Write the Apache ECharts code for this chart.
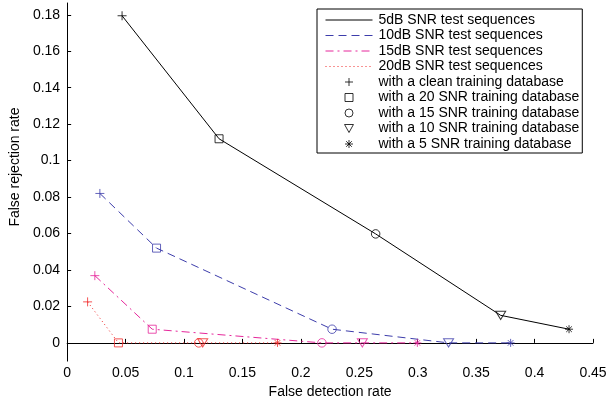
<!DOCTYPE html>
<html>
<head>
<meta charset="utf-8">
<script src="https://cdn.jsdelivr.net/npm/echarts@6/dist/echarts.min.js"></script>
<style>
html,body{margin:0;padding:0;background:#fff;}
#chart{width:613px;height:404px;}
</style>
</head>
<body>
<div id="chart"></div>
<script>
// ---- data ----
const sequenceNames = ['5dB SNR test sequences', '10dB SNR test sequences', '15dB SNR test sequences', '20dB SNR test sequences'];
const trainingNames = ['with a clean training database', 'with a 20 SNR training database', 'with a 15 SNR training database', 'with a 10 SNR training database', 'with a 5 SNR training database'];
// points ordered by training: clean, 20, 15, 10, 5
const fdr5  = [0.047, 0.130, 0.264, 0.371, 0.4295];
const frr5  = [0.1795, 0.112, 0.0598, 0.0151, 0.0075];
const fdr10 = [0.028, 0.0765, 0.2267, 0.3264, 0.3795];
const frr10 = [0.082, 0.052, 0.0075, 0, 0];
const fdr15 = [0.0237, 0.0728, 0.218, 0.2526, 0.2997];
const frr15 = [0.0369, 0.0075, 0, 0, 0];
const fdr20 = [0.0175, 0.0439, 0.1126, 0.116, 0.180];
const frr20 = [0.0225, 0, 0, 0, 0];
const xTicks = [0, 0.05, 0.1, 0.15, 0.2, 0.25, 0.3, 0.35, 0.4, 0.45];
const yTicks = [0, 0.02, 0.04, 0.06, 0.08, 0.1, 0.12, 0.14, 0.16, 0.18];

// ---- styles ----
const FONT = '"Liberation Sans", Arial, Helvetica, sans-serif';
const seqX = [fdr5, fdr10, fdr15, fdr20];
const seqY = [frr5, frr10, frr15, frr20];
const seqColors = ['#000000', '#3d3dab', '#e6279b', '#f02828'];
const seqDash = ['solid', [8, 5], [8, 4, 2, 4], [1, 3]];
const markerSymbols = [
  'path://M5,0 L5,10 M0,5 L10,5',
  'path://M0,0 L10,0 L10,10 L0,10 Z',
  'circle',
  'path://M0,0 L10,0 L5,9 Z',
  'path://M5,0 L5,10 M0,5 L10,5 M1.5,1.5 L8.5,8.5 M8.5,1.5 L1.5,8.5'
];
const markerSizes = [9, 8, 8.5, [10, 9], 8];

const series = [];
sequenceNames.forEach((name, s) => {
  series.push({
    name: name,
    type: 'line',
    symbol: 'none',
    silent: true,
    z: 2,
    color: seqColors[s],
    lineStyle: { color: seqColors[s], width: 1, type: seqDash[s] },
    data: seqX[s].map((x, i) => [x, seqY[s][i]])
  });
});
trainingNames.forEach((name, m) => {
  series.push({
    name: name,
    type: 'scatter',
    symbol: markerSymbols[m],
    symbolSize: markerSizes[m],
    symbolKeepAspect: true,
    z: 3,
    silent: true,
    itemStyle: { color: 'transparent', borderColor: '#000', borderWidth: 1 },
    data: seqX.map((xs, s) => ({ value: [xs[m], seqY[s][m]], itemStyle: { color: 'transparent', borderColor: seqColors[s], borderWidth: 1 } }))
  });
});

const legendData = sequenceNames.map((n, s) => ({
    name: n,
    itemStyle: { opacity: 0 },
    lineStyle: { color: seqColors[s], width: 1 }
  }))
  .concat(trainingNames.map(n => ({ name: n })));

const chart = echarts.init(document.getElementById('chart'), null, { renderer: 'canvas' });
chart.setOption({
  animation: false,
  backgroundColor: '#fff',
  textStyle: { fontFamily: FONT },
  grid: { left: 64, right: 20, top: 3, bottom: 33, containLabel: false },
  legend: {
    orient: 'vertical',
    left: 317,
    top: 9,
    padding: [4, 3, 2, 8],
    borderColor: '#000',
    borderWidth: 1,
    backgroundColor: '#fff',
    itemWidth: 47,
    itemHeight: 8,
    itemGap: 1.5,
    selectedMode: false,
    itemStyle: { borderWidth: 1 },
    lineStyle: { width: 1 },
    textStyle: { fontFamily: FONT, fontSize: 14, color: '#000', padding: [0, 0, 0, 1] },
    data: legendData
  },
  xAxis: {
    type: 'value',
    min: 0,
    max: 0.45,
    interval: 0.05,
    name: 'False detection rate',
    nameLocation: 'middle',
    nameGap: 19,
    nameTextStyle: { fontFamily: FONT, fontSize: 14, color: '#000' },
    axisLine: { lineStyle: { color: '#000', width: 1 } },
    axisTick: { inside: true, length: 4, lineStyle: { color: '#000' } },
    axisLabel: { fontFamily: FONT, fontSize: 14, color: '#000', margin: 5, customValues: xTicks },
    splitLine: { show: false }
  },
  yAxis: {
    type: 'value',
    min: -0.01,
    max: 0.1865,
    name: 'False rejection rate',
    nameLocation: 'middle',
    nameGap: 45,
    nameRotate: 90,
    nameTextStyle: { fontFamily: FONT, fontSize: 14, color: '#000', padding: [0, 0, 0, 30] },
    axisLine: { show: true, onZero: false, lineStyle: { color: '#000', width: 1 } },
    axisTick: { show: true, inside: true, length: 4, lineStyle: { color: '#000' }, customValues: yTicks },
    axisLabel: { fontFamily: FONT, fontSize: 14, color: '#000', margin: 7, customValues: yTicks },
    splitLine: { show: false }
  },
  series: series
});
</script>
</body>
</html>
